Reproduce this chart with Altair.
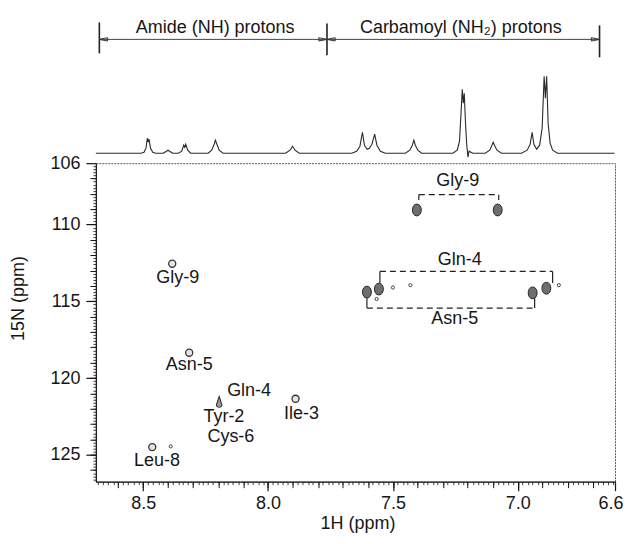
import altair as alt
import pandas as pd

# ---------------- 1D 1H projection (ppm, intensity in arbitrary units) ----------------
spec_ppm = [8.690, 8.510, 8.497, 8.489, 8.484, 8.480, 8.477, 8.471, 8.462, 8.450,
            8.420, 8.407, 8.401, 8.395, 8.382,
            8.360, 8.346, 8.338, 8.334, 8.330, 8.322, 8.310,
            8.240, 8.226, 8.216, 8.211, 8.205, 8.196, 8.180,
            7.930, 7.912, 7.902, 7.892, 7.875,
            7.665, 7.645, 7.632, 7.622, 7.614, 7.603, 7.594, 7.584, 7.573, 7.564, 7.550, 7.530,
            7.450, 7.432, 7.422, 7.416, 7.410, 7.400, 7.385,
            7.260, 7.242, 7.233, 7.227, 7.222, 7.218, 7.214, 7.209, 7.204, 7.199, 7.195, 7.180,
            7.130, 7.112, 7.103, 7.098, 7.093, 7.083, 7.065,
            6.985, 6.962, 6.950, 6.942, 6.935, 6.924, 6.912, 6.902, 6.894, 6.889, 6.884, 6.878,
            6.870, 6.860, 6.840, 6.612]
spec_int = [0, 0, 1, 5, 15, 11, 14, 5, 1, 0,
            0, 2, 3, 2, 0,
            0, 2, 8, 6, 9, 3, 0,
            0, 3, 9, 13, 9, 3, 0,
            0, 3, 7, 3, 0,
            0, 2, 7, 21, 8, 4, 5, 9, 19, 8, 2, 0,
            0, 3, 8, 13, 8, 3, 0,
            0, 3, 12, 40, 64, 50, 60, 30, 8, -4, 2, 0,
            0, 3, 8, 11, 8, 3, 0,
            0, 3, 9, 21, 9, 4, 8, 25, 77, 55, 77, 30,
            10, 3, 0, 0]

# region annotations above the projection
region_names = ["Amide (NH) protons", "Carbamoyl (NH\u2082) protons"]
region_label_ppm = [8.212, 7.228]
region_label_v = [120, 120]
bar_ppm = [8.676, 7.764, 6.672]
bar_top = [131, 130, 128]
bar_bottom = [100, 98, 96]
arrow_line_ppm = [8.676, 6.672]
arrow_line_v = 114
head_ppm = [8.660, 7.780, 7.748, 6.688]
head_dir = ["left", "right", "left", "right"]

# ---------------- 2D HSQC cross peaks ----------------
amide_h = [8.384, 8.316, 7.890, 8.464]
amide_n = [112.55, 118.35, 121.35, 124.5]
tyr_h = [8.196]
tyr_n = [121.6]
nh2_h = [7.604, 7.556, 7.404, 7.080, 6.940, 6.885]
nh2_n = [114.40, 114.20, 109.05, 109.05, 114.45, 114.15]
dot_h = [8.39, 7.50, 7.43, 6.835, 7.565]
dot_n = [124.45, 114.10, 113.95, 113.95, 114.85]

label_text = ["Gly-9", "Asn-5", "Gln-4", "Tyr-2", "Cys-6", "Ile-3", "Leu-8",
              "Gly-9", "Gln-4", "Asn-5"]
label_h = [8.362, 8.316, 8.076, 8.177, 8.149, 7.866, 8.445, 7.240, 7.232, 7.252]
label_n = [113.50, 119.12, 120.87, 122.55, 123.84, 122.32, 125.39, 107.16, 112.30, 116.15]

# dashed brackets joining the NH2 pairs
br_x1 = [7.396, 7.552, 7.604]
br_x2 = [7.076, 6.860, 6.932]
br_y = [108.05, 113.05, 115.44]
brv_x = [7.396, 7.076, 7.552, 6.860, 7.604, 6.932]
brv_y1 = [108.05, 108.05, 113.05, 113.05, 115.44, 115.44]
brv_y2 = [108.40, 108.40, 113.80, 113.80, 114.80, 114.80]

x_major = [8.5, 8.0, 7.5, 7.0, 6.61]
y_major = [106, 110, 115, 120, 125]

FONT = "Liberation Sans"
INK = "#161616"
W = 520

xs = alt.Scale(domain=[6.61, 8.69], reverse=True, nice=False, zero=False)
ys = alt.Scale(domain=[106, 126.75], reverse=True, nice=False, zero=False)
vs = alt.Scale(domain=[-10, 143], nice=False, zero=False)

# ---------------- top panel ----------------
spec_df = pd.DataFrame({"ppm": spec_ppm, "v": spec_int})
spec_line = alt.Chart(spec_df).mark_line(color="#2a2a2a", strokeWidth=1.1).encode(
    x=alt.X("ppm:Q", scale=xs, axis=None),
    y=alt.Y("v:Q", scale=vs, axis=None),
)

bars_df = pd.DataFrame({"ppm": bar_ppm, "t": bar_top, "b": bar_bottom})
bars = alt.Chart(bars_df).mark_rule(color="#222", strokeWidth=1.6).encode(
    x=alt.X("ppm:Q", scale=xs, axis=None),
    y=alt.Y("t:Q", scale=vs, axis=None),
    y2="b:Q",
)

aline_df = pd.DataFrame({"x1": [arrow_line_ppm[0]], "x2": [arrow_line_ppm[1]], "v": [arrow_line_v]})
aline = alt.Chart(aline_df).mark_rule(color="#444", strokeWidth=1).encode(
    x=alt.X("x1:Q", scale=xs, axis=None),
    x2="x2:Q",
    y=alt.Y("v:Q", scale=vs, axis=None),
)

left_head = "M-1,0 L1,-0.4 L1,0.4 Z"
right_head = "M1,0 L-1,-0.4 L-1,0.4 Z"
heads_df = pd.DataFrame({
    "ppm": head_ppm,
    "v": [arrow_line_v] * len(head_ppm),
    "shape": [left_head if d == "left" else right_head for d in head_dir],
})
heads = alt.Chart(heads_df).mark_point(filled=False, color="#333", strokeWidth=1, size=70, opacity=1).encode(
    x=alt.X("ppm:Q", scale=xs, axis=None),
    y=alt.Y("v:Q", scale=vs, axis=None),
    shape=alt.Shape("shape:N", scale=None),
)

rtext_df = pd.DataFrame({"ppm": region_label_ppm, "v": region_label_v, "t": region_names})
rtext = alt.Chart(rtext_df).mark_text(font=FONT, fontSize=18, color=INK, baseline="alphabetic").encode(
    x=alt.X("ppm:Q", scale=xs, axis=None),
    y=alt.Y("v:Q", scale=vs, axis=None),
    text="t:N",
)

top = alt.layer(spec_line, aline, bars, heads, rtext).properties(
    width=W, height=153, view=alt.ViewBackground(stroke="transparent")
)

# ---------------- 2D panel ----------------
amide_df = pd.DataFrame({"h": amide_h, "n": amide_n})

axis_common = dict(grid=False, tickColor=INK, domain=False, labelFlush=False)

major = alt.Chart(amide_df).mark_point(opacity=0).encode(
    x=alt.X("h:Q", scale=xs, axis=alt.Axis(
        orient="bottom", values=x_major, format=".1f", tickSize=9, tickWidth=1.2,
        labelPadding=4, title="1H (ppm)", titleX=262, titleY=42, titleBaseline="middle",
        labelFlush=True, labelFlushOffset=8,
        domain=True, domainColor=INK, domainWidth=1.2, grid=False, tickColor=INK)),
    y=alt.Y("n:Q", scale=ys, axis=alt.Axis(
        orient="left", values=y_major, format="d", tickSize=10, tickWidth=1.2,
        labelPadding=6, title="15N (ppm)", titleX=-77, titleY=135, titleAngle=270,
        titleBaseline="middle", titleAlign="center",
        domain=True, domainColor=INK, domainWidth=1.2, grid=False, tickColor=INK, labelFlush=False)),
)

x_mid = [round(6.7 + 0.1 * i, 2) for i in range(20)]
y_mid = [107 + i for i in range(20)]
x_min = [round(6.62 + 0.02 * i, 2) for i in range(104)]
y_min = [round(106.2 + 0.2 * i, 1) for i in range(103)]

mid = alt.Chart(amide_df).mark_point(opacity=0).encode(
    x=alt.X("h:Q", scale=xs, axis=alt.Axis(orient="bottom", values=x_mid, labels=False, tickSize=6,
                                            title=None, **axis_common)),
    y=alt.Y("n:Q", scale=ys, axis=alt.Axis(orient="left", values=y_mid, labels=False, tickSize=6,
                                            title=None, **axis_common)),
)
minor = alt.Chart(amide_df).mark_point(opacity=0).encode(
    x=alt.X("h:Q", scale=xs, axis=alt.Axis(orient="bottom", values=x_min, labels=False, tickSize=3,
                                            tickWidth=0.8, title=None, **axis_common)),
    y=alt.Y("n:Q", scale=ys, axis=alt.Axis(orient="left", values=y_min, labels=False, tickSize=3,
                                            tickWidth=0.8, title=None, **axis_common)),
)

brh_df = pd.DataFrame({"x1": br_x1, "x2": br_x2, "y": br_y})
brh = alt.Chart(brh_df).mark_rule(color="#222", strokeWidth=1.2, strokeDash=[6, 4]).encode(
    x=alt.X("x1:Q", scale=xs, axis=None), x2="x2:Q",
    y=alt.Y("y:Q", scale=ys, axis=None),
)
brv_df = pd.DataFrame({"x": brv_x, "y1": brv_y1, "y2": brv_y2})
brv = alt.Chart(brv_df).mark_rule(color="#222", strokeWidth=1.2).encode(
    x=alt.X("x:Q", scale=xs, axis=None),
    y=alt.Y("y1:Q", scale=ys, axis=None), y2="y2:Q",
)

amide_pts = alt.Chart(amide_df).mark_point(
    shape="circle", filled=True, fill="#e4e4e4", stroke="#333", strokeWidth=1.3, size=50, opacity=1
).encode(
    x=alt.X("h:Q", scale=xs, axis=None),
    y=alt.Y("n:Q", scale=ys, axis=None),
)

tyr_df = pd.DataFrame({"h": tyr_h, "n": tyr_n})
tyr_pts = alt.Chart(tyr_df).mark_point(
    shape="M0,-1 L0.45,0.35 C0.5,0.9 -0.5,0.9 -0.45,0.35 Z", filled=True, fill="#9a9a9a",
    stroke="#333", strokeWidth=1.1, size=150, opacity=1
).encode(
    x=alt.X("h:Q", scale=xs, axis=None),
    y=alt.Y("n:Q", scale=ys, axis=None),
)

nh2_df = pd.DataFrame({"h": nh2_h, "n": nh2_n})
nh2_pts = alt.Chart(nh2_df).mark_point(
    shape="M0,-1 C1,-1 1,1 0,1 C-1,1 -1,-1 0,-1 Z", filled=True, fill="#6e6e6e",
    stroke="#2a2a2a", strokeWidth=1, size=140, opacity=1
).encode(
    x=alt.X("h:Q", scale=xs, axis=None),
    y=alt.Y("n:Q", scale=ys, axis=None),
)

dot_df = pd.DataFrame({"h": dot_h, "n": dot_n})
dot_pts = alt.Chart(dot_df).mark_point(
    shape="circle", filled=False, stroke="#444", strokeWidth=1, size=10, opacity=1
).encode(
    x=alt.X("h:Q", scale=xs, axis=None),
    y=alt.Y("n:Q", scale=ys, axis=None),
)

lab_df = pd.DataFrame({"h": label_h, "n": label_n, "t": label_text})
labels = alt.Chart(lab_df).mark_text(font=FONT, fontSize=18, color=INK, baseline="middle").encode(
    x=alt.X("h:Q", scale=xs, axis=None),
    y=alt.Y("n:Q", scale=ys, axis=None),
    text="t:N",
)

bottom = alt.layer(major, mid, minor, brh, brv, amide_pts, tyr_pts, nh2_pts, dot_pts, labels).resolve_axis(
    x="independent", y="independent"
).properties(width=W, height=319,
             view=alt.ViewBackground(stroke="#5a5a5a", strokeWidth=1, strokeDash=[2, 1]))

chart = alt.vconcat(top, bottom, spacing=0, bounds="flush").resolve_scale(
    x="independent", y="independent"
).properties(
    padding={"left": 1, "top": 1, "right": 0, "bottom": 0}
).configure_axis(
    labelFont=FONT, titleFont=FONT, labelFontSize=18, titleFontSize=18,
    labelColor=INK, titleColor=INK, titleFontWeight="normal"
).configure_view(stroke="#6a6a6a")

chart.save("out.html", embed_options={"renderer": "svg", "actions": False})
